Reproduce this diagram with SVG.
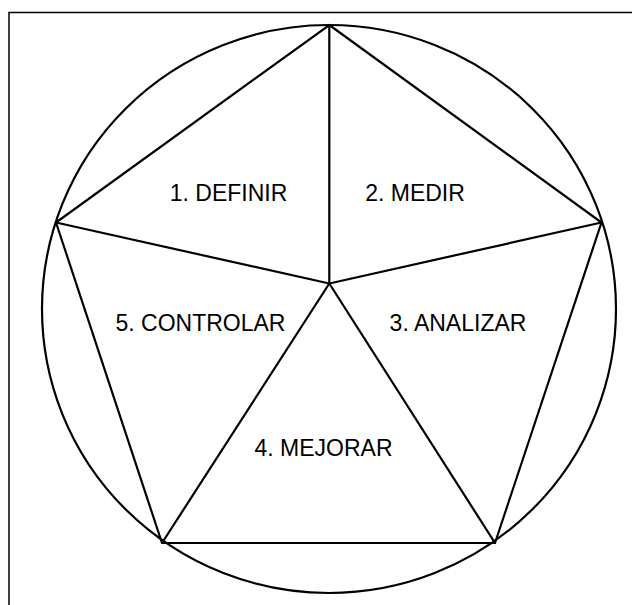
<svg xmlns="http://www.w3.org/2000/svg" width="632" height="605" viewBox="0 0 632 605">
  <style>
    .ln { fill: none; stroke: #000; stroke-width: 2.2; stroke-linejoin: miter; }
    .lbl { font-family: "Liberation Sans", Arial, sans-serif; font-size: 23px; fill: #000; text-anchor: middle; }
  </style>
  <rect x="0" y="0" width="632" height="605" fill="#fff"/>
  <rect x="9" y="12.5" width="660" height="640" fill="none" stroke="#000" stroke-width="1.5"/>
  <g id="circle">
    <ellipse class="ln" cx="329" cy="309" rx="287" ry="284"/>
  </g>
  <g id="connectors">
    <polygon class="ln" points="329.3,25 601.5,222.5 495,543 162,543 56,222.5"/>
    <line class="ln" x1="329.3" y1="283.5" x2="329.3" y2="25"/>
    <line class="ln" x1="329.3" y1="283.5" x2="601.5" y2="222.5"/>
    <line class="ln" x1="329.3" y1="283.5" x2="495" y2="543"/>
    <line class="ln" x1="329.3" y1="283.5" x2="162" y2="543"/>
    <line class="ln" x1="329.3" y1="283.5" x2="56" y2="222.5"/>
  </g>
  <g id="n1"><text class="lbl" x="228.5" y="201">1. DEFINIR</text></g>
  <g id="n2"><text class="lbl" x="415" y="201">2. MEDIR</text></g>
  <g id="n3"><text class="lbl" x="458" y="331">3. ANALIZAR</text></g>
  <g id="n4"><text class="lbl" x="323.5" y="456">4. MEJORAR</text></g>
  <g id="n5"><text class="lbl" x="200.5" y="331">5. CONTROLAR</text></g>
</svg>
